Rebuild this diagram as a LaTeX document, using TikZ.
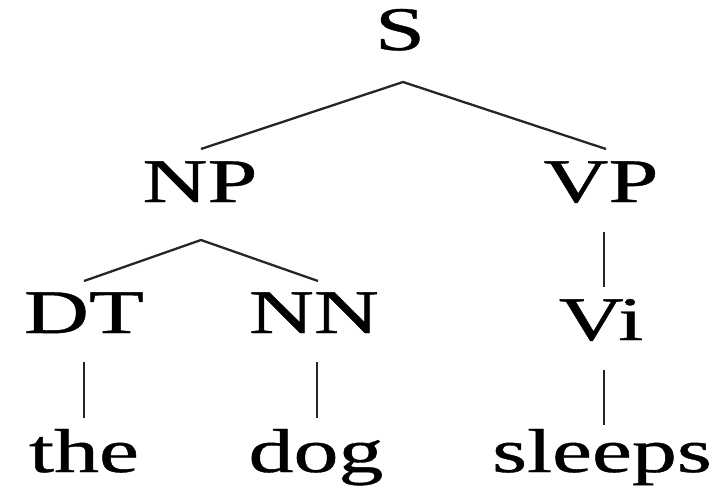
\documentclass[tikz,border=0pt]{standalone}
\usepackage{fontspec}
\setmainfont{Liberation Serif}
\newfontfamily\treefont[FakeBold=0.6]{Liberation Serif}
\tikzset{
  lbl/.style={anchor=base, inner sep=0pt, outer sep=0pt, font=\treefont\fontsize{62}{70}\selectfont},
  edge/.style={draw=black!85, line width=2.3pt}
}
\newcommand{\wide}[1]{\scalebox{1.45}[1]{#1}}
\begin{document}
\begin{tikzpicture}[x=1pt,y=1pt]
\useasboundingbox (0,0) rectangle (719,-491);
\node[lbl] (S) at (400,-50) {\wide{S}};
\node[lbl] (NP) at (200,-202) {\wide{NP}};
\node[lbl] (VP) at (601,-202) {\wide{VP}};
\node[lbl] (DT) at (84,-333) {\wide{DT}};
\node[lbl] (NN) at (314,-333) {\wide{NN}};
\node[lbl] (Vi) at (601,-340) {\wide{Vi}};
\node[lbl] (the) at (84,-472) {\wide{the}};
\node[lbl] (dog) at (316,-472) {\wide{dog}};
\node[lbl] (sleeps) at (602,-472) {\wide{sleeps}};
\draw[edge] ([xshift=1pt,yshift=53pt]NP.base) -- ([xshift=3pt,yshift=-32pt]S.base) -- ([xshift=5pt,yshift=53pt]VP.base);
\draw[edge] ([xshift=0pt,yshift=52pt]DT.base) -- ([xshift=1pt,yshift=-38pt]NP.base) -- ([xshift=4pt,yshift=52pt]NN.base);
\draw[edge] ([xshift=3pt,yshift=-30pt]VP.base) -- ([xshift=3pt,yshift=53pt]Vi.base);
\draw[edge] ([yshift=-29pt]DT.base) -- ([yshift=54pt]the.base);
\draw[edge] ([xshift=3pt,yshift=-29pt]NN.base) -- ([xshift=1pt,yshift=54pt]dog.base);
\draw[edge] ([xshift=3pt,yshift=-30pt]Vi.base) -- ([xshift=2pt,yshift=47pt]sleeps.base);
\end{tikzpicture}
\end{document}
